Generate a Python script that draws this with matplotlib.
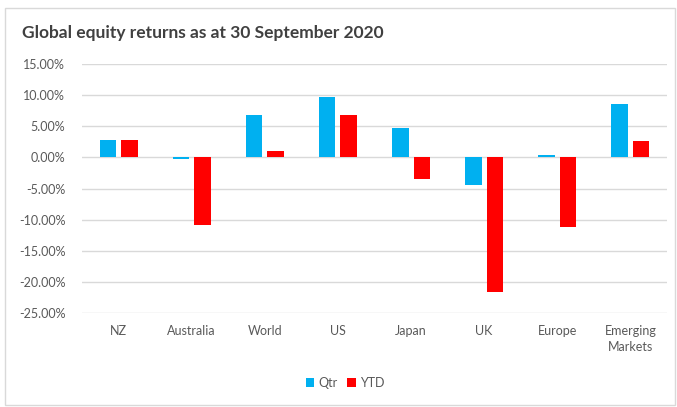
import matplotlib
matplotlib.use("Agg")
from matplotlib import pyplot as plt
from matplotlib.patches import Rectangle
from matplotlib.ticker import FuncFormatter
import numpy as np

categories = ["NZ", "Australia", "World", "US", "Japan", "UK", "Europe", "Emerging\nMarkets"]
qtr = [2.8, -0.3, 6.8, 9.7, 4.7, -4.5, 0.4, 8.6]
ytd = [2.8, -10.8, 1.0, 6.8, -3.4, -21.7, -11.2, 2.6]
yticks = [15, 10, 5, 0, -5, -10, -15, -20, -25]

plt.rcParams['font.family'] = ['Lato', 'DejaVu Sans']

fig = plt.figure(figsize=(6.77, 4.07), dpi=100)
# light chart border
fig.patches.append(Rectangle((5 / 677, 2 / 407), 670 / 677, 397 / 407,
                             transform=fig.transFigure, fill=False,
                             edgecolor="#D9D9D9", linewidth=1))

ax = fig.add_axes([82 / 677, 1 - 313 / 407, 585 / 677, 249 / 407])
x = np.arange(len(categories))
w = 0.225
off = 0.1475
ax.bar(x - off, qtr, w, color="#00B0F0", label="Qtr", zorder=3)
ax.bar(x + off, ytd, w, color="#FF0000", label="YTD", zorder=3)

ax.set_xlim(-0.5, len(categories) - 0.5)
ax.set_ylim(-25, 15)
ax.set_yticks(yticks)
ax.yaxis.set_major_formatter(FuncFormatter(lambda v, p: "%.2f%%" % v))
ax.grid(axis="y", color="#D9D9D9", linewidth=1, zorder=0)
for s in ax.spines.values():
    s.set_visible(False)
ax.tick_params(axis="y", length=0, pad=12, labelsize=9, labelcolor="#595959")
ax.set_xticks(x)
ax.set_xticklabels([])
ax.tick_params(axis="x", length=0)
for i, c in enumerate(categories):
    ax.text(i, -26.9, c, ha="center", va="top", fontsize=9, color="#595959",
            linespacing=1.45)

fig.text(22 / 677, 1 - 33 / 407, "Global equity returns as at 30 September 2020",
         fontsize=12.5, fontweight="bold", color="#404040", va="center")

fig.legend(loc="center", bbox_to_anchor=(345 / 677, 1 - 383 / 407), ncol=2,
           frameon=False, fontsize=9, handlelength=0.7, handleheight=0.7,
           handletextpad=0.3, columnspacing=0.8, labelcolor="#595959")

fig.savefig("out.png", dpi=100)
